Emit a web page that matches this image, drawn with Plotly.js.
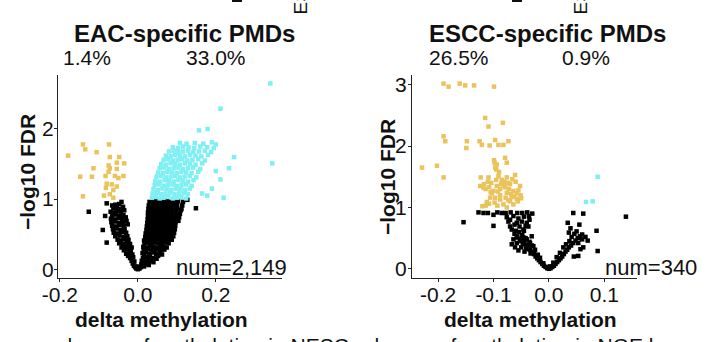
<!DOCTYPE html>
<html>
<head>
<meta charset="utf-8">
<script src="https://cdn.plot.ly/plotly-3.0.1.min.js"></script>
<style>html,body{margin:0;padding:0;background:#fff;}#chart{width:709px;height:342px;}</style>
</head>
<body>
<div id="chart"></div>
<script>
// ---------- Panel titles / labels ----------
const panelTitles = ["EAC-specific PMDs", "ESCC-specific PMDs"];
const panelPercents = [["1.4%", "33.0%"], ["26.5%", "0.9%"]];
const panelCounts = ["num=2,149", "num=340"];
const xTickValsEAC = [-0.2, 0, 0.2];
const xTickTextEAC = ["-0.2", "0.0", "0.2"];
const xTickValsESCC = [-0.2, -0.1, 0, 0.1];
const xTickTextESCC = ["-0.2", "-0.1", "0.0", "0.1"];
const yTickValsEAC = [0, 1, 2];
const yTickValsESCC = [0, 1, 2, 3];

// ---------- EAC panel: [delta methylation, -log10 FDR] ----------
const eacNotSig = [
[0.000,0.00],[0.004,0.01],[-0.004,0.01],[0.008,0.03],[-0.007,0.03],[0.012,0.05],[-0.010,0.05],[0.016,0.04],[0.020,0.07],[-0.013,0.08],[0.024,0.09],[0.009,0.07],[0.028,0.06],[-0.003,0.04],
[-0.016,0.12],[-0.009,0.11],[0.010,0.12],[0.018,0.11],[0.026,0.13],[0.034,0.12],[0.040,0.10],[-0.020,0.16],[-0.012,0.17],[0.013,0.16],[0.022,0.17],[0.031,0.18],[0.040,0.16],[0.048,0.15],[-0.025,0.19],[0.016,0.20],[0.052,0.19],
[-0.030,0.22],[-0.022,0.23],[-0.014,0.21],[0.012,0.23],[0.021,0.24],[0.030,0.22],[0.039,0.24],[0.047,0.22],[0.056,0.24],[0.062,0.21],[-0.036,0.27],[-0.027,0.28],[-0.018,0.26],[0.015,0.27],[0.024,0.29],[0.034,0.28],[0.043,0.27],[0.052,0.29],[0.060,0.27],[0.068,0.28],
[-0.042,0.31],[-0.033,0.32],[-0.024,0.33],[-0.016,0.31],[0.014,0.32],[0.022,0.31],[0.031,0.33],[0.040,0.32],[0.049,0.31],[0.058,0.33],[0.066,0.32],[0.074,0.31],[-0.048,0.37],[-0.038,0.36],[-0.029,0.38],[-0.020,0.36],[0.017,0.37],[0.026,0.38],[0.035,0.36],[0.044,0.38],[0.053,0.37],[0.062,0.36],[0.071,0.38],[0.079,0.37],[-0.080,0.38],
[-0.052,0.42],[-0.043,0.41],[-0.034,0.43],[-0.024,0.42],[0.016,0.41],[0.025,0.43],[0.034,0.42],[0.043,0.41],[0.052,0.43],[0.061,0.42],[0.070,0.41],[0.079,0.43],[0.087,0.42],[-0.058,0.47],[-0.047,0.48],[-0.037,0.46],[-0.027,0.47],[0.019,0.46],[0.028,0.48],[0.037,0.47],[0.046,0.46],[0.055,0.48],[0.064,0.47],[0.073,0.46],[0.082,0.48],[0.091,0.47],[-0.090,0.56],
[-0.062,0.52],[-0.051,0.51],[-0.041,0.53],[-0.030,0.52],[0.020,0.51],[0.029,0.53],[0.038,0.52],[0.047,0.51],[0.056,0.53],[0.065,0.52],[0.074,0.51],[0.083,0.53],[0.093,0.52],[-0.064,0.57],[-0.054,0.58],[-0.044,0.56],[-0.034,0.57],[0.022,0.56],[0.031,0.58],[0.040,0.57],[0.049,0.56],[0.058,0.58],[0.067,0.57],[0.076,0.56],[0.085,0.58],[0.095,0.57],
[-0.066,0.62],[-0.056,0.61],[-0.046,0.63],[-0.036,0.62],[-0.026,0.64],[0.023,0.61],[0.032,0.63],[0.041,0.62],[0.050,0.61],[0.059,0.63],[0.068,0.62],[0.077,0.61],[0.086,0.63],[0.096,0.62],[-0.068,0.67],[-0.058,0.68],[-0.048,0.66],[-0.038,0.67],[-0.029,0.69],[0.024,0.66],[0.033,0.68],[0.042,0.67],[0.051,0.66],[0.060,0.68],[0.069,0.67],[0.078,0.66],[0.087,0.68],[0.097,0.67],[0.104,0.69],
[-0.069,0.72],[-0.059,0.71],[-0.049,0.73],[-0.040,0.72],[-0.031,0.74],[0.025,0.71],[0.034,0.73],[0.043,0.72],[0.052,0.71],[0.061,0.73],[0.070,0.72],[0.079,0.71],[0.088,0.73],[0.098,0.72],[0.106,0.74],[-0.066,0.77],[-0.056,0.78],[-0.046,0.76],[-0.037,0.77],[0.026,0.76],[0.035,0.78],[0.044,0.77],[0.053,0.76],[0.062,0.78],[0.071,0.77],[0.080,0.76],[0.089,0.78],[0.099,0.77],[0.108,0.79],[-0.084,0.76],
[-0.070,0.82],[-0.061,0.81],[-0.052,0.83],[-0.043,0.82],[-0.035,0.84],[0.026,0.81],[0.035,0.83],[0.044,0.82],[0.053,0.81],[0.062,0.83],[0.071,0.82],[0.080,0.81],[0.089,0.83],[0.099,0.82],[0.110,0.84],[-0.063,0.87],[-0.054,0.88],[-0.045,0.86],[-0.038,0.89],[0.027,0.86],[0.036,0.88],[0.045,0.87],[0.054,0.86],[0.063,0.88],[0.072,0.87],[0.081,0.86],[0.090,0.88],[0.100,0.87],[0.112,0.86],[-0.126,0.82],[0.149,0.87],
[-0.058,0.92],[-0.048,0.93],[-0.042,0.96],[-0.066,0.91],[0.028,0.91],[0.037,0.93],[0.046,0.92],[0.055,0.91],[0.064,0.93],[0.073,0.92],[0.082,0.91],[0.091,0.93],[0.101,0.92],[0.114,0.91],[0.030,0.96],[0.039,0.98],[0.048,0.97],[0.057,0.96],[0.066,0.98],[0.075,0.97],[0.084,0.96],[0.093,0.98],[0.103,0.97],[0.116,0.96],[0.127,0.99],[-0.080,0.94]
];
const eacHypo = [
[-0.179,1.62],[-0.141,1.78],[-0.135,1.71],[-0.106,1.67],[-0.074,1.78],[-0.072,1.60],[-0.114,1.44],[-0.148,1.32],[-0.118,1.32],[-0.141,1.04],
[-0.083,1.33],[-0.072,1.44],[-0.075,1.39],[-0.054,1.43],[-0.035,1.51],[-0.037,1.33],[-0.050,1.30],[-0.080,1.22],[-0.067,1.21],[-0.054,1.18],
[-0.082,1.16],[-0.063,1.13],[-0.087,1.05],[-0.072,1.07],[-0.063,1.02],[-0.054,1.52],[-0.048,1.60],[-0.059,1.33],[-0.075,1.48]
];
const eacHyper = [
[0.036,1.02],[0.046,1.03],[0.056,1.01],[0.066,1.02],[0.078,1.03],[0.090,1.01],[0.101,1.02],[0.112,1.03],[0.124,1.01],
[0.038,1.08],[0.049,1.09],[0.060,1.07],[0.071,1.08],[0.083,1.09],[0.094,1.07],[0.106,1.08],[0.118,1.09],[0.128,1.07],
[0.040,1.14],[0.051,1.13],[0.063,1.15],[0.074,1.14],[0.086,1.13],[0.097,1.15],[0.109,1.14],[0.121,1.13],[0.133,1.15],
[0.043,1.20],[0.054,1.21],[0.066,1.19],[0.077,1.20],[0.089,1.21],[0.100,1.19],[0.112,1.20],[0.124,1.21],[0.138,1.19],
[0.045,1.26],[0.057,1.25],[0.069,1.27],[0.080,1.26],[0.092,1.25],[0.104,1.27],[0.116,1.26],[0.129,1.25],[0.143,1.27],
[0.048,1.32],[0.060,1.33],[0.072,1.31],[0.084,1.32],[0.096,1.33],[0.108,1.31],[0.120,1.32],[0.133,1.33],[0.150,1.31],
[0.052,1.38],[0.064,1.37],[0.076,1.39],[0.088,1.38],[0.100,1.37],[0.112,1.39],[0.124,1.38],[0.138,1.37],[0.155,1.39],
[0.056,1.44],[0.068,1.45],[0.080,1.43],[0.092,1.44],[0.104,1.45],[0.116,1.43],[0.129,1.44],[0.142,1.45],[0.160,1.43],
[0.060,1.50],[0.072,1.49],[0.084,1.51],[0.096,1.50],[0.108,1.49],[0.121,1.51],[0.134,1.50],[0.148,1.49],[0.165,1.51],
[0.066,1.56],[0.078,1.57],[0.090,1.55],[0.102,1.56],[0.114,1.57],[0.127,1.55],[0.140,1.56],[0.155,1.57],[0.172,1.55],
[0.072,1.62],[0.084,1.61],[0.096,1.63],[0.108,1.62],[0.121,1.61],[0.134,1.63],[0.148,1.62],[0.163,1.61],[0.180,1.63],
[0.080,1.68],[0.092,1.69],[0.104,1.67],[0.116,1.68],[0.129,1.69],[0.142,1.67],[0.157,1.68],[0.172,1.69],[0.188,1.67],
[0.090,1.74],[0.103,1.73],[0.116,1.75],[0.130,1.74],[0.145,1.73],[0.160,1.75],[0.178,1.74],[0.195,1.73],
[0.108,1.80],[0.125,1.79],[0.146,1.80],[0.168,1.79],[0.190,1.81],[0.200,1.78],
[0.340,2.65],[0.212,2.29],[0.157,1.98],[0.179,2.00],[0.345,1.51],[0.247,1.60],[0.234,1.44],[0.220,1.02],[0.212,1.28],[0.178,1.05],[0.200,1.40],[0.190,1.15],[0.165,1.08]
];

// ---------- ESCC panel ----------
const esccNotSig = [
[0.000,0.00],[-0.003,0.01],[0.003,0.01],[-0.006,0.03],[0.006,0.03],[-0.009,0.05],[0.009,0.05],[-0.012,0.08],[0.012,0.08],[-0.002,0.02],[0.002,0.04],[-0.015,0.11],[0.015,0.11],[-0.018,0.14],[0.018,0.14],[-0.010,0.09],[0.008,0.10],
[-0.021,0.17],[0.021,0.17],[-0.024,0.20],[0.024,0.20],[-0.016,0.18],[0.014,0.19],[-0.027,0.24],[0.027,0.24],[-0.020,0.23],[0.020,0.26],[-0.030,0.28],[0.030,0.28],[-0.034,0.31],[0.033,0.31],[-0.025,0.31],[0.026,0.35],
[-0.037,0.35],[0.036,0.35],[-0.031,0.38],[0.040,0.38],[-0.040,0.39],[0.031,0.40],[-0.044,0.42],[0.044,0.42],[-0.035,0.44],[0.037,0.45],[-0.047,0.46],[0.048,0.46],[-0.052,0.49],[0.052,0.50],[-0.042,0.50],[0.041,0.52],
[-0.057,0.53],[0.056,0.53],[-0.048,0.55],[0.046,0.57],[-0.062,0.57],[0.060,0.56],[-0.054,0.60],[0.050,0.61],[-0.045,0.62],[0.036,0.59],[0.034,0.75],[0.039,0.66],
[-0.076,0.84],[-0.073,0.77],[-0.070,0.69],[-0.067,0.64],[-0.058,0.75],[-0.053,0.69],[-0.049,0.77],[-0.046,0.64],[-0.040,0.75],[-0.037,0.69],[-0.064,0.48],[-0.058,0.42],[-0.052,0.45],[-0.046,0.51],[-0.040,0.48],[-0.034,0.42],
[-0.031,0.53],[-0.028,0.37],[-0.041,0.34],[-0.047,0.40],[-0.058,0.51],[-0.037,0.32],[-0.033,0.25],[-0.061,0.35],[-0.055,0.30],[-0.067,0.40],[-0.050,0.35],[-0.044,0.28],[-0.060,0.62],[-0.055,0.82],[-0.045,0.85],[-0.064,0.86],
[-0.070,0.80],[-0.035,0.80],[-0.062,0.72],[-0.042,0.70],
[-0.127,0.92],[-0.118,0.91],[-0.110,0.91],[-0.100,0.88],[-0.093,0.92],[-0.085,0.91],[-0.078,0.91],[-0.069,0.92],[-0.057,0.91],[-0.048,0.91],[-0.039,0.92],[-0.036,0.86],[-0.030,0.90],
[-0.154,0.76],[-0.100,0.70],[0.044,0.91],[0.062,0.90],[0.086,0.62],[0.088,0.29],[0.139,0.85],[0.055,0.72],[0.060,0.48],[0.053,0.42],[0.057,0.32],[0.053,0.21],[0.062,0.35],[0.045,0.20],[0.066,0.52],[0.070,0.46]
];
const esccHypo = [
[-0.190,3.02],[-0.181,2.97],[-0.161,3.02],[-0.151,2.99],[-0.135,2.99],[-0.099,2.97],[-0.115,2.46],[-0.109,2.32],[-0.083,2.38],
[-0.190,2.16],[-0.187,2.08],[-0.148,2.08],[-0.149,1.97],[-0.125,2.08],[-0.121,2.02],[-0.107,2.01],[-0.097,2.10],[-0.091,2.02],[-0.082,2.02],[-0.073,2.08],
[-0.229,1.65],[-0.202,1.68],[-0.190,1.49],[-0.099,1.77],[-0.094,1.70],[-0.097,1.65],[-0.079,1.81],[-0.076,1.73],[-0.123,1.49],[-0.109,1.49],[-0.091,1.51],[-0.076,1.49],[-0.061,1.53],
[-0.124,1.35],[-0.117,1.38],[-0.114,1.30],[-0.108,1.33],[-0.103,1.23],[-0.100,1.27],[-0.094,1.35],[-0.088,1.30],[-0.081,1.36],[-0.076,1.24],[-0.070,1.38],[-0.064,1.27],[-0.058,1.23],[-0.052,1.35],
[-0.058,1.14],[-0.051,1.20],[-0.073,1.12],[-0.067,1.17],[-0.088,1.13],[-0.097,1.16],[-0.106,1.16],[-0.112,1.09],[-0.082,1.05],[-0.076,1.00],[-0.093,1.03],[-0.114,1.03],
[-0.098,1.73],[-0.095,1.62],[-0.090,1.58],[-0.085,1.45],[-0.080,1.42],[-0.072,1.30],[-0.068,1.22],[-0.062,1.18],[-0.056,1.10],[-0.060,1.42],[-0.066,1.46],[-0.110,1.42],[-0.104,1.40],[-0.118,1.32],
[-0.095,1.45],[-0.088,1.20],[-0.078,1.16],[-0.070,1.10],[-0.064,1.05],[-0.098,1.08],[-0.105,1.25],[-0.086,1.38],[-0.092,1.26],[-0.079,1.33],[-0.108,1.06],[-0.074,1.40],[-0.120,1.02],[-0.050,1.15],[-0.055,1.28]
];
const esccHyper = [[0.088,1.50],[0.067,1.09],[0.079,1.10]];

const colBlack = "#000000", colHypo = "#EAC35C", colHyper = "#7EEFF3";
const font = "Liberation Sans, Arial, Helvetica, sans-serif";

function pts(arr, color, xa, ya) {
  return {
    type: "scatter", mode: "markers",
    x: arr.map(p => p[0]), y: arr.map(p => p[1]),
    xaxis: xa, yaxis: ya,
    marker: {symbol: "square", size: 4.5, color: color, line: {width: 0}},
    hoverinfo: "skip", showlegend: false
  };
}

const data = [
  pts(eacNotSig, colBlack, "x", "y"),
  pts(eacHypo, colHypo, "x", "y"),
  pts(eacHyper, colHyper, "x", "y"),
  pts(esccNotSig, colBlack, "x2", "y2"),
  pts(esccHypo, colHypo, "x2", "y2"),
  pts(esccHyper, colHyper, "x2", "y2")
];

const W = 709, H = 342;
const px = v => v / W, py = v => 1 - v / H;

function axisBase(standoff) {
  return {
    showgrid: false, zeroline: false, showline: true, linecolor: "#222", linewidth: 1,
    ticks: "outside", ticklen: 3, tickwidth: 1, tickcolor: "#222",
    ticklabelstandoff: standoff,
    tickfont: {family: font, size: 21, color: "#111"}, fixedrange: true
  };
}
const yDom = [py(278), py(75)];

const layout = {
  width: W, height: H,
  margin: {l: 0, r: 0, t: 0, b: 0},
  paper_bgcolor: "#fff", plot_bgcolor: "#fff",
  font: {family: font, color: "#111"},
  xaxis: Object.assign(axisBase(-5), {domain: [px(58), px(282)], range: [-0.205, 0.37], tickvals: xTickValsEAC, ticktext: xTickTextEAC, anchor: "y"}),
  yaxis: Object.assign(axisBase(-4), {domain: yDom, range: [-0.125, 2.77], tickvals: yTickValsEAC, anchor: "x"}),
  xaxis2: Object.assign(axisBase(-5), {domain: [px(412), px(637)], range: [-0.247, 0.159], tickvals: xTickValsESCC, ticktext: xTickTextESCC, anchor: "y2"}),
  yaxis2: Object.assign(axisBase(-3), {domain: yDom, range: [-0.15, 3.16], tickvals: yTickValsESCC, anchor: "x2"}),
  shapes: [
    {type: "rect", xref: "paper", yref: "paper", x0: px(232), x1: px(242), y0: py(2), y1: py(0), fillcolor: "#111", line: {width: 0}},
    {type: "rect", xref: "paper", yref: "paper", x0: px(512), x1: px(522), y0: py(2), y1: py(0), fillcolor: "#111", line: {width: 0}}
  ],
  annotations: []
};

function ann(text, x, y, size, opts) {
  return Object.assign({text: text, xref: "paper", yref: "paper", x: px(x), y: py(y), showarrow: false,
    xanchor: "center", yanchor: "middle", font: {family: font, size: size, color: "#111"}}, opts || {});
}
const A = layout.annotations;
A.push(ann("<b>" + panelTitles[0] + "</b>", 184, 34, 24));
A.push(ann("<b>" + panelTitles[1] + "</b>", 547, 34, 24));
A.push(ann(panelPercents[0][0], 87, 58, 21));
A.push(ann(panelPercents[0][1], 216, 58, 21));
A.push(ann(panelPercents[1][0], 459, 58, 21));
A.push(ann(panelPercents[1][1], 586, 58, 21));
A.push(ann(panelCounts[0], 289, 267, 22, {xanchor: "right"}));
A.push(ann(panelCounts[1], 699, 267, 22, {xanchor: "right"}));
A.push(ann("<b>delta methylation</b>", 161, 319, 21));
A.push(ann("<b>delta methylation</b>", 530, 319, 21));
A.push(ann("<b>\u2212log10 FDR</b>", 27, 172, 21, {textangle: -90}));
A.push(ann("<b>\u2212log10 FDR</b>", 387, 177, 21, {textangle: -90}));
A.push(ann("change of methylation in NESC", 351, 345, 21, {xanchor: "right"}));
A.push(ann("change of methylation in NGE l", 362, 345, 21, {xanchor: "left"}));
A.push(ann("ESCC", 300, 17, 19, {textangle: -90, yanchor: "bottom"}));
A.push(ann("ESCC", 580, 17, 19, {textangle: -90, yanchor: "bottom"}));

Plotly.newPlot("chart", data, layout, {staticPlot: true, displayModeBar: false});
</script>
</body>
</html>
